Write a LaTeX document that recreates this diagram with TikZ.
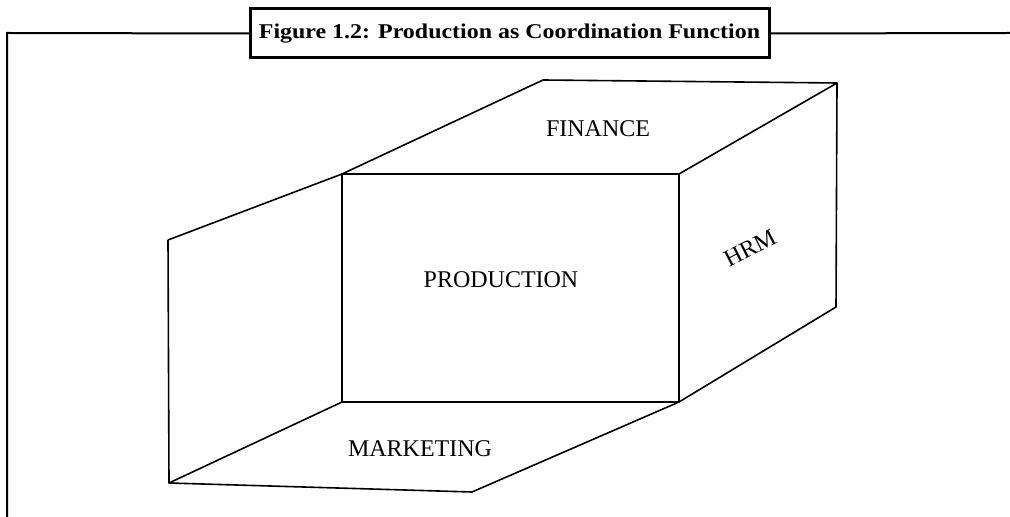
\documentclass[tikz,border=0pt]{standalone}
\usepackage{fontspec}
\setmainfont{Liberation Serif}
\usepackage{graphicx}
\usepackage{tikz}

\begin{document}
\begin{tikzpicture}[x=0.5pt, y=-0.5pt,
  edge/.style={line width=0.8pt, line join=round},
  face/.style={font=\fontsize{12}{14}\selectfont, inner sep=0pt},
  every node/.style={outer sep=0pt}]
\useasboundingbox (0,0) rectangle (1010,517);

% frame and title
\coordinate (fbot) at (7,517);
\coordinate (fcorner) at (7,33);
\coordinate (fright) at (1010,33);
\node[draw, line width=1.5pt, fill=white, minimum width=259.5pt, minimum height=24.5pt,
  font=\bfseries\fontsize{10.5}{12}\selectfont] (title) at (509.5,33.5)
  {\scalebox{1.14}[1]{Figure 1.2: Production as Coordination Function}};
\draw[line width=1pt] (fbot) -- (fcorner) -- (title.west);
\draw[line width=1pt] (title.east) -- (fright);

% corners of the box
\coordinate (lt) at (168,240);
\coordinate (lb) at (169,483);
\coordinate (ftl) at (342,174);
\coordinate (ftr) at (679,174);
\coordinate (fbr) at (679,402);
\coordinate (fbl) at (342,402);
\coordinate (btl) at (543,80);
\coordinate (btr) at (837,83);
\coordinate (rb) at (836,307);
\coordinate (mb) at (472,492);

\draw[edge] (ftl) rectangle (fbr);
\draw[edge] (lt) -- (ftl);
\draw[edge] (ftl) -- (btl) -- (btr) -- (ftr);
\draw[edge] (btr) -- (rb) -- (fbr);
\draw[edge] (fbr) -- (mb) -- (lb) -- (fbl);
\draw[edge] (lt) -- (lb);

\node[face] (fin) at (598,129) {FINANCE};
\node[face] (prod) at (501,280) {PRODUCTION};
\node[face, rotate=27] (hrm) at (750,248) {HRM};
\node[face] (mkt) at (420,449) {MARKETING};
\end{tikzpicture}
\end{document}
